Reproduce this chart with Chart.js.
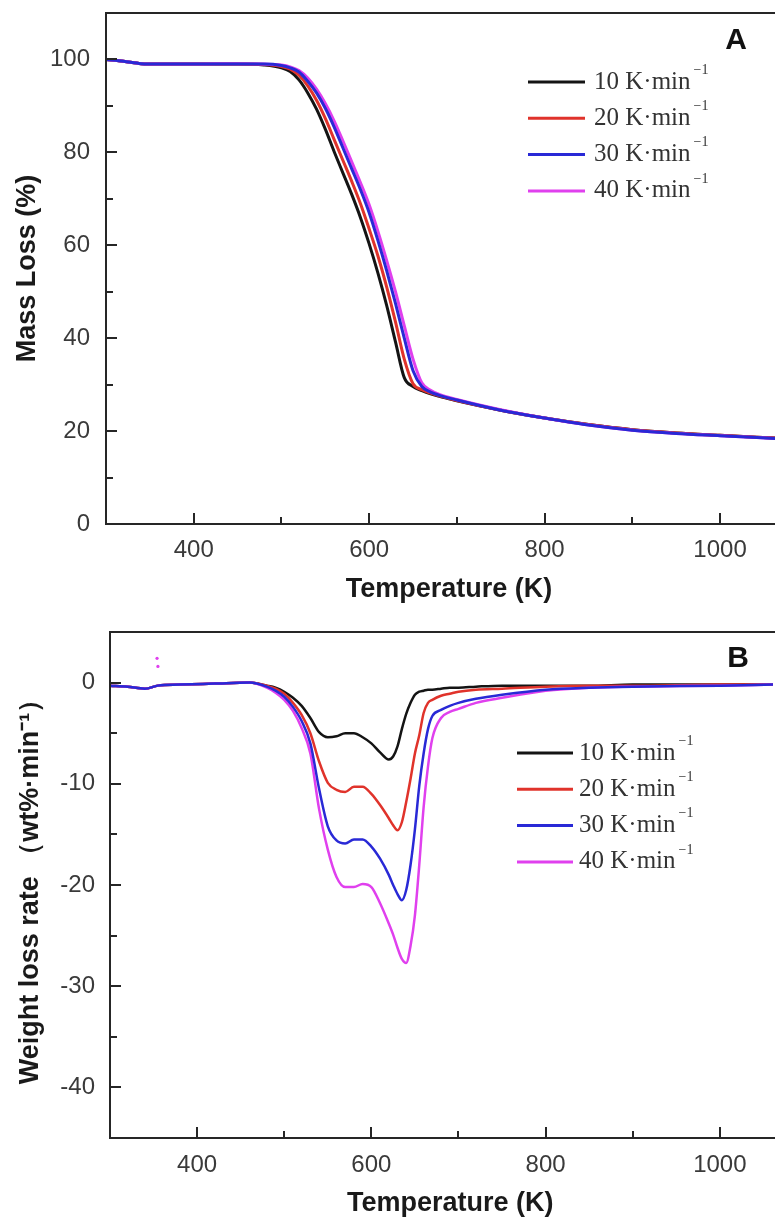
<!DOCTYPE html>
<html>
<head>
<meta charset="utf-8">
<title>TG / DTG curves</title>
<script src="https://cdn.jsdelivr.net/npm/chart.js@4.4.1/dist/chart.umd.min.js"></script>
<style>
  html, body { margin: 0; padding: 0; background: #fff; overflow: hidden; }
  canvas { display: block; }
</style>
</head>
<body>
<!-- plots run a little past the page edge, so the right frame is cut off -->
<canvas id="tgChart" width="792" height="610"></canvas>
<canvas id="dtgChart" width="792" height="610"></canvas>
<script>
// 1. Data
const heatingRates = [10, 20, 30, 40];
const rateColors = ['#141414', '#e0332b', '#2929d6', '#e040ee'];

// Panel A - TG curves, mass remaining (%)
const tgTemp = [300, 320, 340, 360, 400, 450, 480, 500, 510, 520, 530, 540, 550, 560, 570, 580, 590,
  600, 610, 620, 630, 640, 650, 660, 670, 680, 700, 750, 800, 850, 900, 950, 1000, 1063];
const tg10 = [100, 99.6, 99.1, 99, 99, 99, 98.8, 98.2, 97.4, 95.6, 92.8, 89.3, 85, 80.2, 75.6, 71, 66,
  60.3, 54, 47, 39.2, 31.5, 29.6, 28.7, 28, 27.5, 26.5, 24.5, 22.8, 21.4, 20.3, 19.6, 19.1, 18.5];
const tg20 = [100, 99.6, 99.1, 99, 99, 99, 98.9, 98.5, 97.9, 96.6, 94.3, 91.2, 87.3, 82.8, 78.3, 73.8, 69,
  63.5, 57.7, 51, 43.5, 35.5, 30.2, 28.9, 28.2, 27.6, 26.6, 24.5, 22.8, 21.4, 20.3, 19.6, 19.1, 18.5];
const tg30 = [100, 99.6, 99.1, 99, 99, 99, 99, 98.7, 98.2, 97.3, 95.3, 92.8, 89.5, 85.5, 81, 76.5, 72,
  67, 61, 54.5, 47.5, 40, 33, 29.6, 28.4, 27.7, 26.7, 24.5, 22.8, 21.3, 20.2, 19.5, 19, 18.4];
const tg40 = [100, 99.6, 99.1, 99, 99, 99.1, 99, 98.8, 98.4, 97.6, 96, 93.6, 90.5, 86.8, 82.5, 78, 73.5,
  68.7, 63, 56.7, 50, 42.7, 35.5, 30.4, 28.8, 27.9, 26.8, 24.6, 22.8, 21.3, 20.2, 19.5, 19, 18.4];

// Panel B - DTG curves, weight loss rate (wt%/min)
const dtgTemp = [300, 320, 340, 355, 380, 420, 460, 480, 490, 500, 510, 520, 530, 540, 550, 560, 570,
  580, 590, 600, 610, 620, 625, 630, 635, 640, 645, 650, 655, 660, 665, 670, 680, 690, 700, 720, 750,
  800, 850, 900, 1000, 1061];
const dtg10 = [-0.3, -0.4, -0.6, -0.3, -0.2, -0.1, 0, -0.3, -0.5, -0.9, -1.5, -2.3, -3.5, -4.9, -5.4,
  -5.3, -5.0, -5.0, -5.4, -6.0, -6.9, -7.6, -7.3, -6.3, -4.6, -3.1, -2.0, -1.2, -0.9, -0.8, -0.7, -0.7,
  -0.6, -0.5, -0.5, -0.4, -0.3, -0.3, -0.3, -0.2, -0.2, -0.2];
const dtg20 = [-0.3, -0.4, -0.6, -0.3, -0.2, -0.1, 0, -0.3, -0.6, -1.1, -2.0, -3.2, -5.0, -7.8, -9.9,
  -10.6, -10.8, -10.3, -10.3, -11.0, -12.1, -13.4, -14.1, -14.6, -13.8, -11.8, -9.5, -7.0, -5.2, -3.0,
  -2.0, -1.7, -1.3, -1.1, -0.9, -0.7, -0.6, -0.4, -0.3, -0.3, -0.2, -0.2];
const dtg30 = [-0.3, -0.4, -0.6, -0.3, -0.2, -0.1, 0, -0.4, -0.8, -1.4, -2.4, -3.8, -6.0, -10.5, -14.2,
  -15.6, -15.9, -15.5, -15.5, -16.2, -17.4, -19.0, -20.0, -20.9, -21.5, -20.5, -18.0, -14.5, -10.2, -7.0,
  -4.6, -3.3, -2.7, -2.3, -2.0, -1.6, -1.2, -0.7, -0.5, -0.4, -0.3, -0.2];
const dtg40 = [-0.3, -0.4, -0.6, -0.3, -0.2, -0.1, 0, -0.5, -1.0, -1.7, -2.8, -4.5, -7.0, -12.5, -16.5,
  -19.2, -20.2, -20.2, -19.9, -20.2, -21.8, -23.8, -24.9, -26.2, -27.3, -27.7, -26.0, -23.0, -18.0, -12.3,
  -8.3, -5.5, -3.5, -2.9, -2.6, -2.0, -1.5, -0.8, -0.5, -0.4, -0.3, -0.2];
// two stray readings above zero on the 40 K/min run
const strayTemp = [354, 355];
const strayRate = [2.4, 1.6];

// Tick positions
const tempTicks = [400, 500, 600, 700, 800, 900, 1000];
const tgTicks = [0, 10, 20, 30, 40, 50, 60, 70, 80, 90, 100];
const dtgTicks = [-40, -35, -30, -25, -20, -15, -10, -5, 0];

// 2. Helpers
const SANS = '"Liberation Sans", Arial, sans-serif';
const SERIF = '"Liberation Serif", "Times New Roman", serif';

function toPoints(xs, ys) {
  return xs.map((x, i) => ({ x: x, y: ys[i] }));
}

function rateDatasets(temps, series, width) {
  // blue and magenta on top, black underneath
  const drawOrder = [3, 2, 0, 1];
  return series.map((vals, i) => ({
    label: heatingRates[i] + ' K·min',
    data: toPoints(temps, vals),
    borderColor: rateColors[i],
    backgroundColor: rateColors[i],
    borderWidth: width,
    pointRadius: 0,
    pointHoverRadius: 0,
    pointBorderWidth: 0,
    cubicInterpolationMode: 'monotone',
    order: drawOrder[i]
  }));
}

// frame on top/left/bottom with inward tick marks
const axesFrame = {
  id: 'axesFrame',
  afterDatasetsDraw(chart, args, opts) {
    const { ctx, chartArea: a } = chart;
    const xs = chart.scales.x, ys = chart.scales.y;
    ctx.save();
    ctx.strokeStyle = '#262626';
    ctx.lineWidth = 2;
    ctx.beginPath();
    ctx.moveTo(a.right, a.top);
    ctx.lineTo(a.left, a.top);
    ctx.lineTo(a.left, a.bottom);
    ctx.lineTo(a.right, a.bottom);
    ctx.stroke();
    ctx.beginPath();
    xs.ticks.forEach(t => {
      const px = Math.round(xs.getPixelForValue(t.value));
      const len = t.value % opts.xMajor === 0 ? 11 : 7;
      ctx.moveTo(px, a.bottom);
      ctx.lineTo(px, a.bottom - len);
    });
    ys.ticks.forEach(t => {
      const py = Math.round(ys.getPixelForValue(t.value));
      const len = t.value % opts.yMajor === 0 ? 11 : 7;
      ctx.moveTo(a.left, py);
      ctx.lineTo(a.left + len, py);
    });
    ctx.stroke();
    ctx.restore();
  }
};

// legend inside the plot + panel letter
const rateLegend = {
  id: 'rateLegend',
  afterDraw(chart, args, opts) {
    const ctx = chart.ctx;
    ctx.save();
    ctx.textBaseline = 'middle';
    ctx.textAlign = 'left';
    heatingRates.forEach((rate, i) => {
      const y = opts.top + i * opts.rowGap;
      ctx.strokeStyle = rateColors[i];
      ctx.lineWidth = 3;
      ctx.beginPath();
      ctx.moveTo(opts.left, y);
      ctx.lineTo(opts.left + opts.lineLen, y);
      ctx.stroke();
      const txt = rate + ' K·min';
      const tx = opts.left + opts.lineLen + opts.textGap;
      ctx.fillStyle = '#333';
      ctx.font = '25px ' + SERIF;
      ctx.fillText(txt, tx, y);
      const w = ctx.measureText(txt).width;
      ctx.font = '14px ' + SERIF;
      ctx.fillText('\u22121', tx + w + 3, y - 12);
    });
    ctx.font = 'bold 30px ' + SANS;
    ctx.fillStyle = '#111';
    ctx.textAlign = 'center';
    ctx.fillText(opts.letter, opts.letterX, opts.letterY);
    ctx.restore();
  }
};

function buildChart(canvasId, p) {
  const ctx = document.getElementById(canvasId).getContext('2d');
  return new Chart(ctx, {
    type: 'line',
    data: { datasets: p.datasets },
    plugins: [axesFrame, rateLegend],
    options: {
      responsive: false,
      animation: false,
      events: [],
      layout: { padding: { top: p.top, left: 0, right: 0, bottom: 0 } },
      plugins: {
        legend: { display: false },
        tooltip: { enabled: false },
        axesFrame: { xMajor: 200, yMajor: p.yMajor },
        rateLegend: p.legend
      },
      scales: {
        x: {
          type: 'linear',
          min: 300,
          max: p.xMax,
          afterBuildTicks: s => { s.ticks = tempTicks.map(v => ({ value: v })); },
          afterFit: s => { s.height = p.xHeight; s.paddingLeft = 0; s.paddingRight = 0; },
          grid: { display: false, drawTicks: false },
          border: { display: false },
          ticks: {
            autoSkip: false,
            maxRotation: 0,
            padding: p.xPad,
            color: '#3a3a3a',
            font: { family: SANS, size: 24 },
            callback: v => (v % 200 === 0 ? v : '')
          },
          title: {
            display: true,
            text: 'Temperature (K)',
            color: '#1a1a1a',
            font: { family: SANS, size: 27, weight: 'bold' },
            padding: { top: 0, bottom: p.xTitlePad }
          }
        },
        y: {
          min: p.yMin,
          max: p.yMax,
          afterBuildTicks: s => { s.ticks = p.yTicks.map(v => ({ value: v })); },
          afterFit: s => { s.width = p.yWidth; s.paddingTop = 0; s.paddingBottom = 0; },
          grid: { display: false, drawTicks: false },
          border: { display: false },
          ticks: {
            autoSkip: false,
            padding: p.yPad,
            color: '#3a3a3a',
            font: { family: SANS, size: 24 },
            callback: v => (v % p.yMajor === 0 ? v : '')
          },
          title: {
            display: true,
            text: p.yTitle,
            color: '#1a1a1a',
            font: { family: SANS, size: 27, weight: 'bold' },
            padding: { top: p.yTitlePad, bottom: 0 }
          }
        }
      }
    }
  });
}

// 3. Draw both panels
document.addEventListener('DOMContentLoaded', () => {
  buildChart('tgChart', {
    datasets: rateDatasets(tgTemp, [tg10, tg20, tg30, tg40], 3),
    top: 13, xMax: 1082, xHeight: 86, xPad: 12, xTitlePad: 4,
    yMin: 0, yMax: 110, yTicks: tgTicks, yMajor: 20, yWidth: 106, yPad: 16, yTitlePad: 11,
    yTitle: 'Mass Loss (%)',
    legend: { left: 528, top: 82, rowGap: 36.3, lineLen: 57, textGap: 9, letter: 'A', letterX: 736, letterY: 41 }
  });

  const dtgSets = rateDatasets(dtgTemp, [dtg10, dtg20, dtg30, dtg40], 2.5);
  dtgSets.push({
    label: 'stray',
    data: toPoints(strayTemp, strayRate),
    showLine: false,
    borderWidth: 0,
    pointRadius: 1.6,
    pointHoverRadius: 0,
    pointBorderWidth: 0,
    pointBackgroundColor: rateColors[3],
    order: 5
  });
  buildChart('dtgChart', {
    datasets: dtgSets,
    top: 22, xMax: 1081, xHeight: 82, xPad: 13, xTitlePad: 0,
    yMin: -45, yMax: 5, yTicks: dtgTicks, yMajor: 10, yWidth: 110, yPad: 15, yTitlePad: 14,
    yTitle: 'Weight loss rate \uFF08wt%\u00B7min\u207B\u00B9\uFF09',
    legend: { left: 517, top: 143, rowGap: 36.3, lineLen: 56, textGap: 6, letter: 'B', letterX: 738, letterY: 49 }
  });
});
</script>
</body>
</html>
